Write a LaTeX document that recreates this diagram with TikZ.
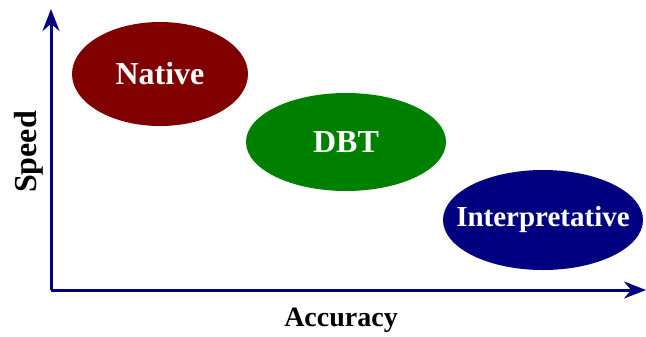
\documentclass[tikz,border=0pt]{standalone}
\usepackage{fontspec}
\setmainfont{Liberation Serif}
\usetikzlibrary{shapes, arrows.meta, positioning}
\definecolor{nativered}{RGB}{128,0,0}
\definecolor{dbtgreen}{RGB}{0,128,0}
\definecolor{interpblue}{RGB}{0,0,128}

\begin{document}
\begin{tikzpicture}[x=1bp, y=-1bp,
    blob/.style={text=white, font=\bfseries\fontsize{32bp}{36bp}\selectfont},
    axis/.style={interpblue, line width=3bp, -{Stealth[length=22bp, width=17bp]}}]
        \useasboundingbox (0, 0) rectangle (646, 336);
        \fill[nativered] (160, 74) ellipse [x radius=88, y radius=52];
        \fill[dbtgreen] (346, 142) ellipse [x radius=100, y radius=49];
        \fill[interpblue] (543, 220) ellipse [x radius=100, y radius=50];
        \node[blob] (native) at (160, 74) {Native};
        \node[blob] (dbt) at (346, 142) {DBT};
        \node[blob, font=\bfseries\fontsize{29bp}{33bp}\selectfont] (interp) at (543, 220) {Interpretative};
        \coordinate (o) at (51, 290);
        \coordinate (ytop) at (51, 9);
        \coordinate (xend) at (646, 290);
        \draw[axis] (o) -- (ytop);
        \draw[axis] (o) -- (xend);
        \node[font=\bfseries\fontsize{28bp}{32bp}\selectfont, anchor=base] (acc) at (341, 326) {Accuracy};
        \node[font=\bfseries\fontsize{32bp}{36bp}\selectfont, rotate=90, anchor=base] (speed) at (36, 152) {Speed};
      \end{tikzpicture}
\end{document}
